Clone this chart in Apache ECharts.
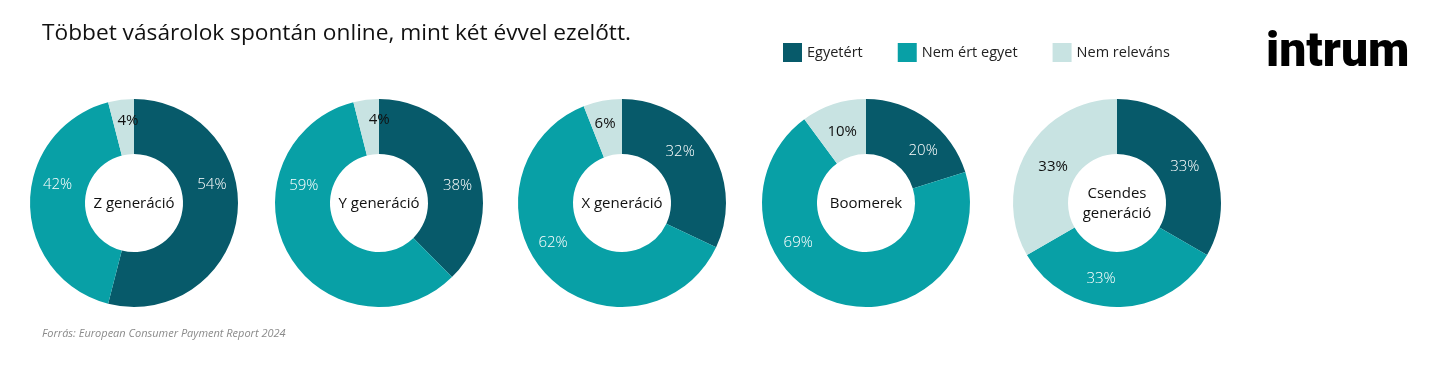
<!DOCTYPE html>
<html>
<head>
<meta charset="utf-8">
<script src="https://cdn.jsdelivr.net/npm/echarts@6/dist/echarts.min.js"></script>
<style>
  html, body { margin: 0; padding: 0; background: #fff; }
  #chart { width: 1430px; height: 376px; }
</style>
</head>
<body>
<div id="chart"></div>
<script>
const answers = ["Egyetért", "Nem ért egyet", "Nem releváns"];
const generations = ["Z generáció", "Y generáció", "X generáció", "Boomerek", "Csendes\ngeneráció"];
const agree = [54, 38, 32, 20, 33];
const disagree = [42, 59, 62, 69, 33];
const notRelevant = [4, 4, 6, 10, 33];

const colors = ["#075a6a", "#08a0a6", "#c8e3e2"];
const labelColors = ["#fff", "#fff", "#111"];
const labelWeights = [300, 300, "normal"];
const font = "Open Sans";

const chart = echarts.init(document.getElementById("chart"));

// layout: pie centres and hand-placed label nudges (as in the original slide)
const centersX = [134, 379, 622, 866, 1117];
const centerY = 203;
const labelNudge = [
  [[-1, -28], [3, -18], [4, -3]],
  [[5, 13], [-6, -56], [10, -4]],
  [[-9, -9], [-11, -15], [-2, -1]],
  [[10, 12], [-43, -36], [1, 4]],
  [[-1, 3], [-16, -4], [5, 3]],
];

const series = generations.map(function (gen, i) {
  const vals = [agree[i], disagree[i], notRelevant[i]];
  return {
    name: gen,
    type: "pie",
    center: [centersX[i], centerY],
    radius: [49, 104],
    startAngle: 90,
    clockwise: true,
    silent: true,
    itemStyle: { borderWidth: 0 },
    label: {
      show: true,
      position: "inside",
      fontFamily: font,
      fontSize: 15,
      formatter: "{c}%",
    },
    labelLine: { show: false },
    data: vals.map(function (v, j) {
      return {
        value: v,
        name: answers[j],
        itemStyle: { color: colors[j] },
        label: {
          color: labelColors[j],
          fontWeight: labelWeights[j],
          offset: labelNudge[i][j],
        },
      };
    }),
  };
});

// generation names in the holes
const centerTexts = generations.map(function (gen, i) {
  return {
    type: "text",
    x: centersX[i],
    y: centerY + 1,
    style: {
      text: gen,
      fontFamily: font,
      fontSize: 15,
      fill: "#111",
      align: "center",
      verticalAlign: "middle",
      lineHeight: 20,
    },
  };
});

const option = {
  backgroundColor: "#fff",
  animation: false,
  title: {
    text: "Többet vásárolok spontán online, mint két évvel ezelőtt.",
    left: 37,
    top: 17,
    textStyle: {
      fontFamily: font,
      fontWeight: "normal",
      fontSize: 22.7,
      color: "#111",
    },
  },
  legend: {
    data: answers,
    left: 783,
    top: 43,
    padding: 0,
    itemWidth: 19,
    itemHeight: 19,
    itemGap: 35,
    icon: "rect",
    selectedMode: false,
    textStyle: { fontFamily: font, fontSize: 14.5, color: "#222" },
  },
  color: colors,
  series: series,
  graphic: centerTexts.concat([
    {
      type: "text",
      left: 1266,
      top: 30,
      style: {
        text: "intrum",
        fontFamily: "Roboto",
        fontWeight: 900,
        fontSize: 48,
        fill: "#000",
      },
    },
    {
      type: "text",
      left: 42,
      top: 328,
      style: {
        text: "Forrás: European Consumer Payment Report 2024",
        fontFamily: font,
        fontStyle: "italic",
        fontSize: 11,
        fill: "#8a8a8a",
      },
    },
  ]),
};

chart.setOption(option);
</script>
</body>
</html>
